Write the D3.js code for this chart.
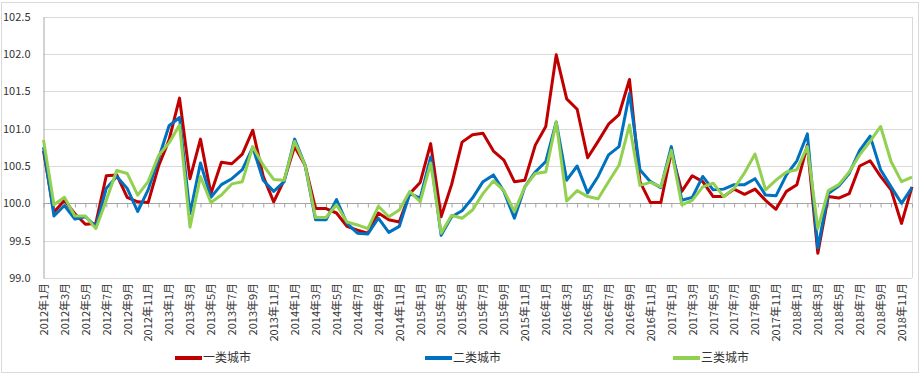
<!DOCTYPE html>
<html>
<head>
<meta charset="utf-8">
<script src="https://cdn.jsdelivr.net/npm/d3@7"></script>
<style>
  body { margin: 0; background: #fff; }
  svg text { font-family: "Noto Sans CJK SC", "Noto Sans", sans-serif; fill: #333; }
</style>
</head>
<body>
<svg id="chart" width="922" height="376"></svg>
<script>
// months 2012年1月 .. 2018年12月
const years = [2012, 2013, 2014, 2015, 2016, 2017, 2018];
const months = [];
years.forEach(y => { for (let m = 1; m <= 12; m++) months.push(y + "年" + m + "月"); });

const seriesNames = ["一类城市", "二类城市", "三类城市"];
const colors = ["#c00000", "#0070c0", "#92d050"];

const tier1 = [
  100.70, 99.88, 100.04, 99.86, 99.72, 99.73, 100.37, 100.38, 100.08, 100.02, 100.01, 100.50,
  100.85, 101.41, 100.33, 100.86, 100.13, 100.55, 100.53, 100.66, 100.98, 100.36, 100.02, 100.31,
  100.76, 100.51, 99.93, 99.93, 99.87, 99.69, 99.64, 99.60, 99.87, 99.78, 99.75, 100.13,
  100.28, 100.80, 99.82, 100.25, 100.82, 100.92, 100.94, 100.70, 100.58, 100.29, 100.31, 100.78,
  101.03, 101.99, 101.40, 101.26, 100.61, 100.83, 101.06, 101.19, 101.66, 100.29, 100.01, 100.01,
  100.69, 100.16, 100.37, 100.29, 100.09, 100.09, 100.19, 100.12, 100.19, 100.04, 99.92, 100.16,
  100.25, 100.78, 99.33, 100.09, 100.07, 100.13, 100.50, 100.57, 100.36, 100.18, 99.73, 100.22
];
const tier2 = [
  100.75, 99.83, 99.97, 99.79, 99.82, 99.69, 100.20, 100.36, 100.20, 99.89, 100.18, 100.60,
  101.04, 101.15, 99.86, 100.54, 100.08, 100.25, 100.33, 100.45, 100.75, 100.31, 100.16, 100.29,
  100.86, 100.51, 99.78, 99.78, 100.05, 99.73, 99.60, 99.59, 99.80, 99.61, 99.69, 100.13,
  100.07, 100.62, 99.57, 99.82, 99.90, 100.07, 100.29, 100.38, 100.16, 99.80, 100.22, 100.42,
  100.56, 101.09, 100.31, 100.50, 100.14, 100.36, 100.65, 100.76, 101.47, 100.45, 100.29, 100.21,
  100.76, 100.04, 100.08, 100.36, 100.18, 100.19, 100.25, 100.25, 100.33, 100.11, 100.10, 100.38,
  100.57, 100.93, 99.40, 100.13, 100.23, 100.40, 100.71, 100.90, 100.45, 100.22, 100.00, 100.21
];
const tier3 = [
  100.85, 99.98, 100.08, 99.83, 99.83, 99.66, 100.04, 100.44, 100.40, 100.11, 100.29, 100.64,
  100.81, 101.05, 99.68, 100.36, 100.01, 100.11, 100.26, 100.29, 100.76, 100.51, 100.32, 100.31,
  100.83, 100.51, 99.81, 99.81, 99.98, 99.75, 99.71, 99.66, 99.96, 99.82, 99.91, 100.16,
  100.02, 100.54, 99.60, 99.84, 99.80, 99.91, 100.13, 100.30, 100.17, 99.89, 100.22, 100.40,
  100.42, 101.09, 100.03, 100.17, 100.09, 100.06, 100.29, 100.51, 101.05, 100.24, 100.28, 100.22,
  100.71, 99.98, 100.04, 100.22, 100.27, 100.09, 100.20, 100.41, 100.66, 100.18, 100.31, 100.42,
  100.45, 100.76, 99.66, 100.17, 100.25, 100.42, 100.65, 100.83, 101.03, 100.56, 100.29, 100.35
];
const yTicks = [99.0, 99.5, 100.0, 100.5, 101.0, 101.5, 102.0, 102.5];

const series = [tier1, tier2, tier3];

const svg = d3.select("#chart");
const width = +svg.attr("width");
const height = +svg.attr("height");
const plot = { left: 43.5, right: 912, top: 16.8, bottom: 277.9 };

// chart frame
svg.append("rect")
  .attr("x", 1.5).attr("y", 2.5)
  .attr("width", width - 5).attr("height", height - 6)
  .attr("fill", "#fff").attr("stroke", "#d9d9d9");

const x = d3.scalePoint()
  .domain(months)
  .range([plot.left, plot.right]);

const y = d3.scaleLinear()
  .domain([99, 102.5])
  .range([plot.bottom, plot.top]);

// gridlines
svg.append("g")
  .selectAll("line")
  .data(yTicks)
  .enter()
  .append("line")
  .attr("x1", plot.left).attr("x2", plot.right)
  .attr("y1", d => Math.round(y(d)) + 0.5)
  .attr("y2", d => Math.round(y(d)) + 0.5)
  .attr("stroke", "#d9d9d9");

// right edge of plot
svg.append("line")
  .attr("x1", plot.right + 0.5).attr("x2", plot.right + 0.5)
  .attr("y1", plot.top).attr("y2", plot.bottom)
  .attr("stroke", "#d9d9d9");

// y axis
const yAxis = svg.append("g")
  .attr("transform", `translate(${plot.left},0)`)
  .call(d3.axisLeft(y).tickValues(yTicks).tickSize(0).tickPadding(13).tickFormat(d3.format(".1f")));
yAxis.select(".domain").attr("stroke", "#a6a6a6");
yAxis.selectAll("text").attr("font-size", 11);

// x axis crossing at 100
const xAxis = svg.append("g")
  .attr("transform", `translate(0,${Math.round(y(100)) + 0.5})`)
  .call(d3.axisBottom(x).tickSize(4).tickFormat(""));
xAxis.select(".domain").attr("stroke", "#a6a6a6").attr("d", `M${plot.left},0H${plot.right}`);
xAxis.selectAll(".tick line").attr("stroke", "#a6a6a6");

// x labels at bottom, every second month
const xLabels = svg.append("g")
  .attr("transform", `translate(0,${plot.bottom + 5})`)
  .call(d3.axisBottom(x).tickValues(months.filter((d, i) => i % 2 === 0)).tickSize(0));
xLabels.select(".domain").remove();
xLabels.selectAll("text")
  .attr("font-size", 11)
  .attr("transform", "rotate(-90)")
  .attr("text-anchor", "end")
  .attr("x", 0).attr("y", 0).attr("dy", "0.35em");

// lines
const line = d3.line()
  .x((d, i) => x(months[i]))
  .y(d => y(d));

svg.append("g")
  .selectAll("path")
  .data(series)
  .enter()
  .append("path")
  .attr("d", d => line(d))
  .attr("fill", "none")
  .attr("stroke", (d, i) => colors[i])
  .attr("stroke-width", 3)
  .attr("stroke-linejoin", "round");

// legend
const legendX = [175, 425, 673];
const legend = svg.append("g")
  .selectAll("g")
  .data(seriesNames)
  .enter()
  .append("g")
  .attr("transform", (d, i) => `translate(${legendX[i]},358)`);
legend.append("line")
  .attr("x1", 0).attr("x2", 27)
  .attr("stroke", (d, i) => colors[i])
  .attr("stroke-width", 4);
legend.append("text")
  .attr("x", 28).attr("dy", "0.35em")
  .attr("font-size", 12)
  .text(d => d);
</script>
</body>
</html>
